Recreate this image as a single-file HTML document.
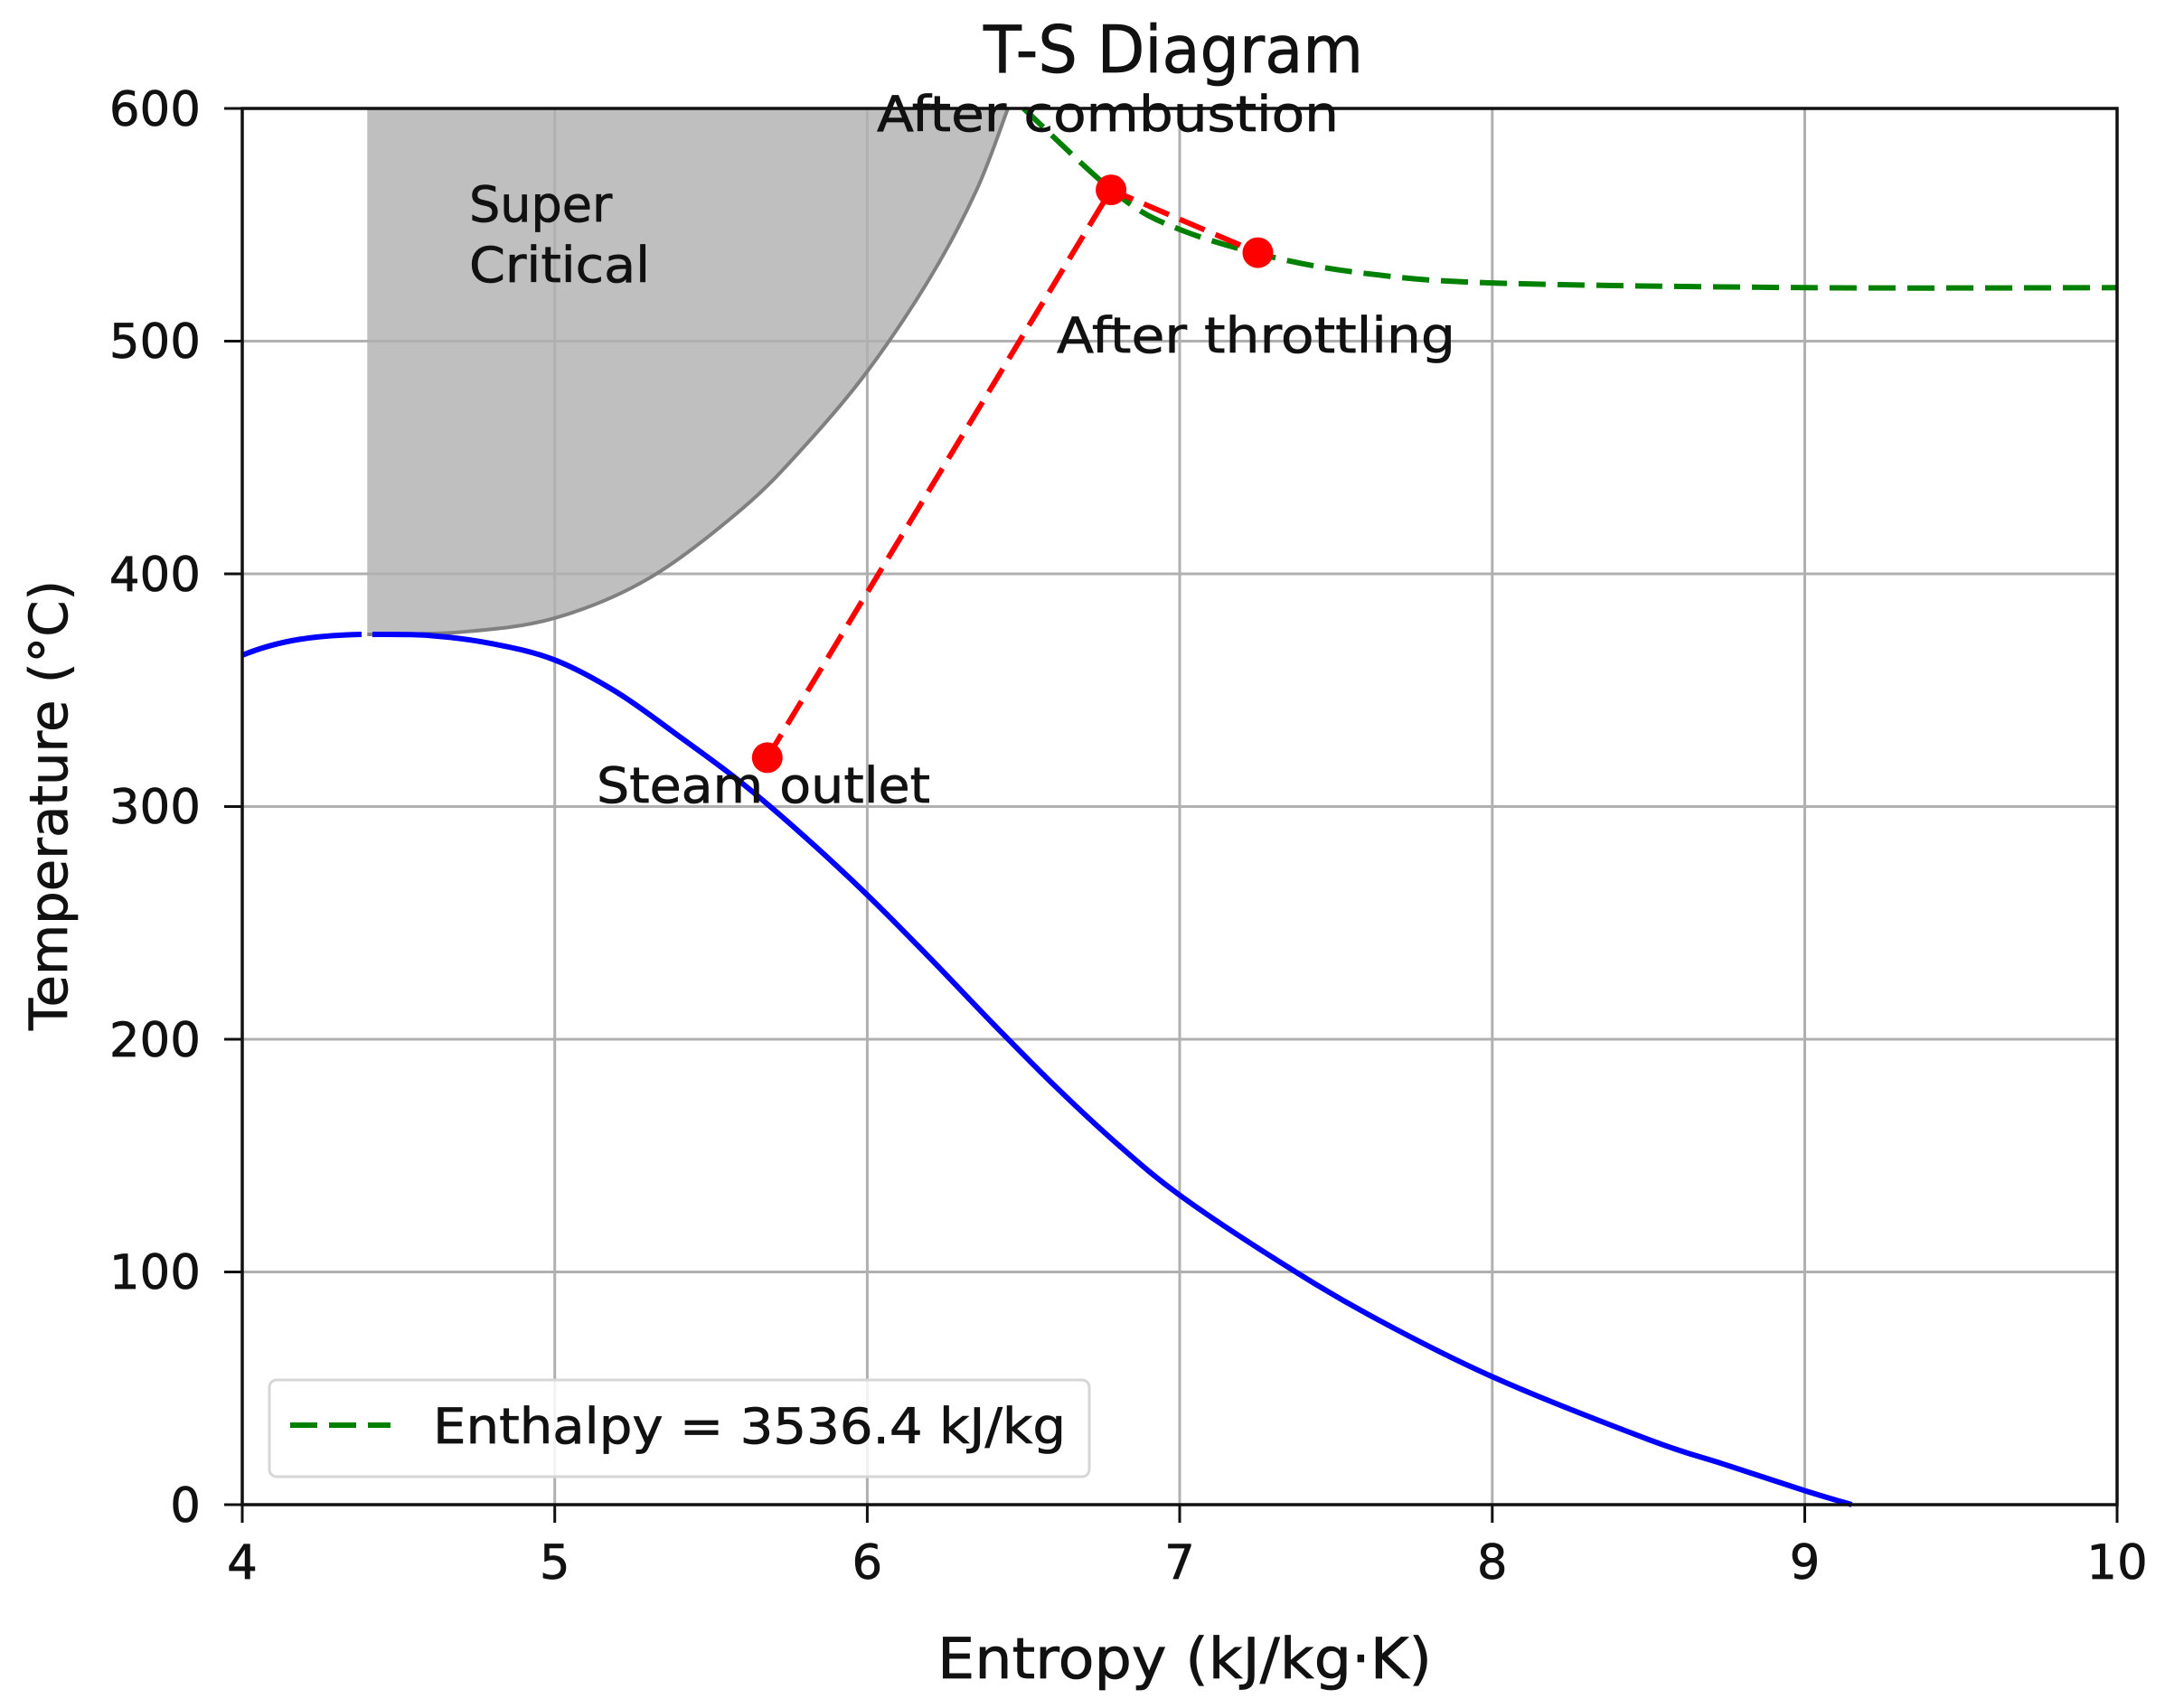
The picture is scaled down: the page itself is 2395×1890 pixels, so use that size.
<!DOCTYPE html>
<html><head><meta charset="utf-8"><style>
html,body{margin:0;padding:0;background:#fff;}
svg{display:block;}
text{font-family:"DejaVu Sans","Liberation Sans",sans-serif;fill:#111;stroke:#111;stroke-width:0.7;}
</style></head><body>
<svg width="2395" height="1890" viewBox="0 0 2395 1890" xmlns="http://www.w3.org/2000/svg">
<rect width="2395" height="1890" fill="#fff"/>
<path id="fill" d="M406.3,702 L406.3,120 L1115,120 Z" fill="#bfbfbf"/>
<g stroke="#b0b0b0" stroke-width="3" fill="none">
<line x1="613.7" y1="120" x2="613.7" y2="1665"/>
<line x1="959.4" y1="120" x2="959.4" y2="1665"/>
<line x1="1305" y1="120" x2="1305" y2="1665"/>
<line x1="1650.8" y1="120" x2="1650.8" y2="1665"/>
<line x1="1996.5" y1="120" x2="1996.5" y2="1665"/>
<line x1="268" y1="377.5" x2="2342" y2="377.5"/>
<line x1="268" y1="635" x2="2342" y2="635"/>
<line x1="268" y1="892.5" x2="2342" y2="892.5"/>
<line x1="268" y1="1150" x2="2342" y2="1150"/>
<line x1="268" y1="1407.5" x2="2342" y2="1407.5"/>
</g>
<path id="edge" d="M406.3,702 L510,699.4 L613.7,683.9 L717.4,640.2 L821.1,562.9 L890.3,493.4 L959.4,411 L1028.5,308 L1080.4,210.1 L1115,120" fill="none" stroke="#808080" stroke-width="4"/>
<path d="M268,725 C310,708 350,703 400,702" fill="none" stroke="#0000ff" stroke-width="6"/>
<path id="blue" d="M412,702 L475.4,703.2 L544.6,712.3 L613.7,730.3 L682.8,766.3 L752,815.3 L821.1,866.8 L890.3,926 L959.4,990.3 L1028.5,1059.9 L1097.7,1132 L1166.8,1201.5 L1236,1265.9 L1305,1322.5 L1408.8,1392 L1512.5,1453.9 L1650.8,1523.4 L1823.7,1592.9 L1910,1621.2 L1996.5,1649.5 L2048.4,1665" fill="none" stroke="#0000ff" stroke-width="6" stroke-linejoin="round"/>
<path id="green" d="M1132.3,120 L1236,215.3 L1305,253.9 L1408.8,284.8 L1512.5,302.8 L1650.8,313.1 L1996.5,318.3 L2342,318.3" fill="none" stroke="#008000" stroke-width="6" stroke-dasharray="30,13"/>
<path d="M848.8,838.4 L1229.1,210.1 L1391.5,279.6" fill="none" stroke="#ff0000" stroke-width="6" stroke-dasharray="30,13"/>
<circle cx="848.8" cy="838.4" r="17" fill="#ff0000"/>
<circle cx="1229.1" cy="210.1" r="17" fill="#ff0000"/>
<circle cx="1391.5" cy="279.6" r="17" fill="#ff0000"/>
<rect x="268" y="120" width="2074" height="1545" fill="none" stroke="#111" stroke-width="3.5"/>
<g stroke="#111" stroke-width="3">
<line x1="268" y1="1665" x2="268" y2="1685"/>
<line x1="613.7" y1="1665" x2="613.7" y2="1685"/>
<line x1="959.4" y1="1665" x2="959.4" y2="1685"/>
<line x1="1305" y1="1665" x2="1305" y2="1685"/>
<line x1="1650.8" y1="1665" x2="1650.8" y2="1685"/>
<line x1="1996.5" y1="1665" x2="1996.5" y2="1685"/>
<line x1="2342" y1="1665" x2="2342" y2="1685"/>
<line x1="248" y1="120" x2="268" y2="120"/>
<line x1="248" y1="377.5" x2="268" y2="377.5"/>
<line x1="248" y1="635" x2="268" y2="635"/>
<line x1="248" y1="892.5" x2="268" y2="892.5"/>
<line x1="248" y1="1150" x2="268" y2="1150"/>
<line x1="248" y1="1407.5" x2="268" y2="1407.5"/>
<line x1="248" y1="1665" x2="268" y2="1665"/>
</g>
<g font-size="53" text-anchor="end">
<text x="222" y="139">600</text>
<text x="222" y="396">500</text>
<text x="222" y="654">400</text>
<text x="222" y="911">300</text>
<text x="222" y="1169">200</text>
<text x="222" y="1426">100</text>
<text x="222" y="1684">0</text>
</g>
<g font-size="53" text-anchor="middle">
<text x="268" y="1747">4</text>
<text x="613.7" y="1747">5</text>
<text x="959.4" y="1747">6</text>
<text x="1305" y="1747">7</text>
<text x="1650.8" y="1747">8</text>
<text x="1996.5" y="1747">9</text>
<text x="2342" y="1747">10</text>
</g>
<text x="1037" y="1857" font-size="62" textLength="547" lengthAdjust="spacingAndGlyphs">Entropy (kJ/kg·K)</text>
<text transform="translate(74,1140) rotate(-90)" font-size="58" textLength="498" lengthAdjust="spacingAndGlyphs">Temperature (°C)</text>
<text x="1088" y="80" font-size="72" textLength="420" lengthAdjust="spacingAndGlyphs">T-S Diagram</text>
<g font-size="54">
<text x="519" y="245">Super</text>
<text x="519" y="312" textLength="200" lengthAdjust="spacingAndGlyphs">Critical</text>
<text x="660" y="888" textLength="369" lengthAdjust="spacingAndGlyphs">Steam outlet</text>
<text x="970" y="145" textLength="511" lengthAdjust="spacingAndGlyphs">After  combustion</text>
<text x="1169" y="390" textLength="441" lengthAdjust="spacingAndGlyphs">After  throttling</text>
</g>
<rect x="298" y="1527" width="907" height="107" rx="8" fill="#fff" fill-opacity="0.85" stroke="#d6d6d6" stroke-width="3"/>
<line x1="321" y1="1577" x2="432" y2="1577" stroke="#008000" stroke-width="6" stroke-dasharray="30,13"/>
<text x="479" y="1597" font-size="54" textLength="700" lengthAdjust="spacingAndGlyphs">Enthalpy = 3536.4 kJ/kg</text>
</svg>
<script>
function cr(pts){var d="M"+pts[0][0]+","+pts[0][1];for(var i=0;i<pts.length-1;i++){var p0=pts[i-1]||pts[i],p1=pts[i],p2=pts[i+1],p3=pts[i+2]||p2;
var c1x=p1[0]+(p2[0]-p0[0])/6,c1y=p1[1]+(p2[1]-p0[1])/6,c2x=p2[0]-(p3[0]-p1[0])/6,c2y=p2[1]-(p3[1]-p1[1])/6;
d+=" C"+c1x.toFixed(1)+","+c1y.toFixed(1)+" "+c2x.toFixed(1)+","+c2y.toFixed(1)+" "+p2[0]+","+p2[1];}return d;}
function pts(el){return el.getAttribute("d").replace(/[MLZ]/g," ").trim().split(/\s+/).map(function(s){return s.split(",").map(Number);});}
try{
var ep=pts(document.getElementById("edge"));
document.getElementById("fill").setAttribute("d",cr(ep)+" L406.3,120 Z");
["blue","green","edge"].forEach(function(id){var e=document.getElementById(id);e.setAttribute("d",cr(pts(e)));});
}catch(e){}
</script>
</body></html>
